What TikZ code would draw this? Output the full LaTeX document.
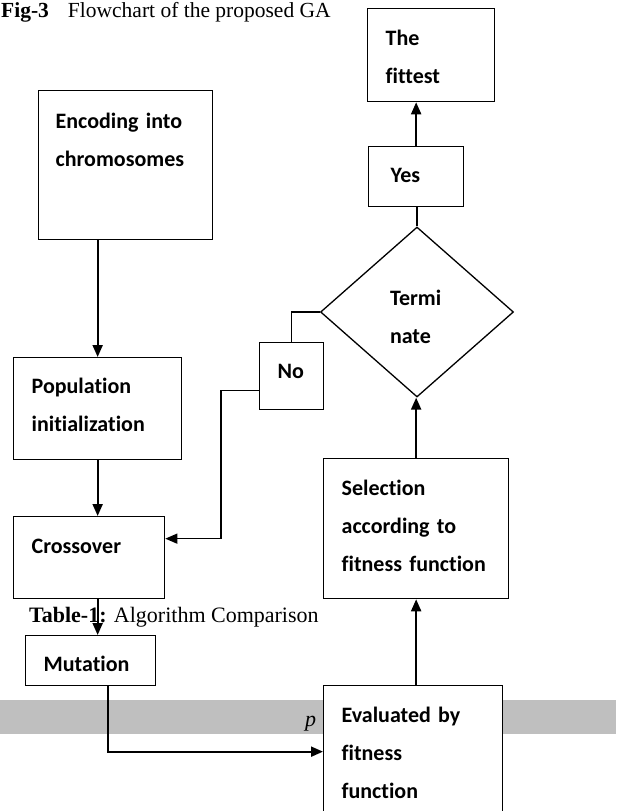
\documentclass[tikz,border=0pt]{standalone}
\usepackage{fontspec}
\setmainfont{Liberation Serif}
\newfontfamily\boxfont[Ligatures=NoCommon]{Carlito}
\usetikzlibrary{shapes.geometric,arrows.meta}

\definecolor{bandgray}{RGB}{191,191,191}

\tikzset{
  box/.style={draw, line width=1.3pt, fill=white, anchor=north west, align=left,
              inner xsep=18pt, inner ysep=0pt,
              font=\boxfont\bfseries\fontsize{22}{38}\selectfont},
  decision/.style={diamond, draw, line width=1.3pt, inner sep=0pt,
                   minimum width=193pt, minimum height=170pt, align=left,
                   text width=54pt, text height=16pt, text depth=30pt,
                   font=\boxfont\bfseries\fontsize{22}{38}\selectfont},
  conn/.style={line width=2pt},
  thin conn/.style={line width=1.2pt},
  caption/.style={anchor=base west, inner sep=0pt, font=\fontsize{22}{26}\selectfont}
}

\begin{document}
\begin{tikzpicture}[x=1pt,y=-1pt,>={Triangle[length=12pt,width=10pt]}]

  \clip (0,0) rectangle (616,811);

  % page band and captions of the scan
  \fill[bandgray] (0,700) rectangle (616,734);
  \node[caption]                (pg)    at (305,726) {\itshape p};
  \node[caption, font=\fontsize{21.5}{26}\selectfont]
                                (title) at (1,17)    {\textbf{Fig-3}\hspace{19pt}Flowchart of the proposed GA};
  \node[caption]                (tab)   at (29,622)  {\textbf{Table-1:} Algorithm Comparison};

  % left column
  \node[box, inner xsep=17pt, text width=140pt, text height=38pt, text depth=111pt]
        (enc)   at (38,90)   {Encoding into\\chromosomes};
  \node[box, text width=132pt, text height=36pt, text depth=66pt]
        (pop)   at (13,357)  {Population\\initialization};
  \node[box, text width=115pt, text height=37pt, text depth=45pt]
        (cross) at (13,516)  {Crossover};
  \node[box, text width=94pt, text height=36pt, text depth=14pt]
        (mut)   at (25,635)  {Mutation};

  % right column
  \node[box, text width=91pt, text height=37pt, text depth=56pt]
        (fit)   at (367,8)   {The\\fittest};
  \node[box, inner xsep=22pt, text width=51pt, text height=36pt, text depth=24pt]
        (yes)   at (368,146) {Yes};
  \node[decision] (term) at (417,312) {Termi\\nate};
  \node[box, text width=28pt, text height=36pt, text depth=31pt]
        (no)    at (259,342) {No};
  \node[box, text width=149pt, text height=37pt, text depth=103pt]
        (sel)   at (323,458) {Selection\\according to\\fitness function};
  \node[box, text width=143pt, text height=37pt, text depth=95pt]
        (eval)  at (323,685) {Evaluated by\\fitness\\function};

  % connectors
  \draw[conn,->] (pop.north |- enc.south) -- (pop.north);
  \draw[conn,->] (pop.south) -- (pop.south |- cross.north);
  \draw[conn,->] (pop.south |- cross.south) -- (pop.south |- mut.north);
  \draw[conn,->] ([xshift=17pt]mut.south) |- (eval.west);
  \draw[conn,->] (sel.south |- eval.north) -- (sel.south);
  \draw[conn,->] (sel.north) -- (sel.north |- term.south);
  \draw[thin conn] (term.north) -- (term.north |- yes.south);
  \draw[conn,->] (yes.north) -- (yes.north |- fit.south);
  \draw[thin conn] (term.west) -| (no.north);
  \draw[thin conn,->] ([yshift=-14.5pt]no.west) -- ++(-38,0) |- ([yshift=19pt]cross.east);

\end{tikzpicture}
\end{document}
